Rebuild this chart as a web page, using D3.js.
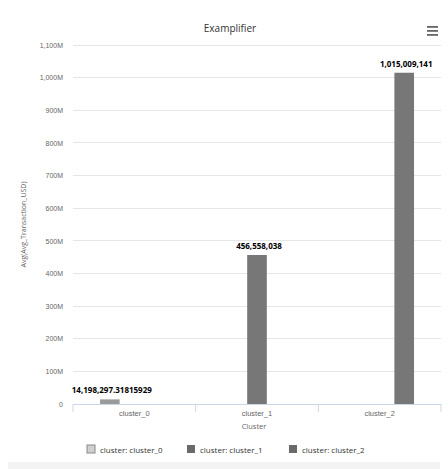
<!DOCTYPE html>
<html>
<head>
<meta charset="utf-8">
<script src="https://cdn.jsdelivr.net/npm/d3@7"></script>
<style>
  html, body { margin: 0; padding: 0; background: #fff; }
  svg { display: block; font-family: "Open Sans", "Noto Sans", sans-serif; }
</style>
</head>
<body>
<svg id="chart" width="448" height="469"></svg>
<script>
// Chart data
const categories = ["cluster_0", "cluster_1", "cluster_2"];
const seriesNames = ["cluster: cluster_0", "cluster: cluster_1", "cluster: cluster_2"];
const seriesValues = [14198297.31815929, 456558038, 1015009141];
const valueLabels = ["14,198,297.31815929", "456,558,038", "1,015,009,141"];
const yTicks = [0, 100e6, 200e6, 300e6, 400e6, 500e6, 600e6, 700e6, 800e6, 900e6, 1000e6, 1100e6];
const seriesColors = ["#9a9a9a", "#777777", "#777777"];

const svg = d3.select("#chart");
const W = 448, H = 469;
const margin = { left: 73, right: 7, top: 45, bottom: 65 };
const plotW = W - margin.left - margin.right;
const plotH = H - margin.top - margin.bottom;

// bottom shadow strip
svg.append("rect").attr("x", 8).attr("y", 462).attr("width", 432).attr("height", 7).attr("fill", "#f3f3f3");

const g = svg.append("g").attr("transform", `translate(${margin.left},${margin.top})`);

const x = d3.scaleBand().domain(categories).range([0, plotW]).paddingInner(0).paddingOuter(0);
const y = d3.scaleLinear().domain([0, 1100e6]).range([plotH, 0]);

// grouped slots inside each category (group padding 0.2, point padding 0.1)
const xs = d3.scaleBand().domain(seriesNames).range([x.bandwidth() * 0.2, x.bandwidth() * 0.8]).paddingInner(0);
const barW = xs.bandwidth() * 0.8;

// gridlines
g.append("g").selectAll("line").data(yTicks).join("line")
  .attr("x1", 0).attr("x2", plotW)
  .attr("y1", d => y(d)).attr("y2", d => y(d))
  .attr("stroke", "#e6e6e6").attr("stroke-width", 1)
  .attr("shape-rendering", "crispEdges");

// y axis labels
const fmtM = d => d === 0 ? "0" : d3.format(",")(d / 1e6) + "M";
const yAxis = d3.axisLeft(y).tickValues(yTicks).tickFormat(fmtM).tickSize(0).tickPadding(10);
const yg = g.append("g").call(yAxis);
yg.select(".domain").remove();
yg.selectAll("text").attr("fill", "#666").style("font-size", "7px");

// x axis
const xAxis = d3.axisBottom(x).tickSize(0).tickPadding(7);
const xg = g.append("g").attr("transform", `translate(0,${plotH})`).call(xAxis);
xg.select(".domain").attr("stroke", "#ccd6eb");
xg.selectAll("text").attr("fill", "#666").style("font-size", "7.5px");
// category boundary ticks
xg.append("g").selectAll("line").data(categories).join("line")
  .attr("x1", d => x(d) + x.bandwidth()).attr("x2", d => x(d) + x.bandwidth())
  .attr("y1", 0).attr("y2", 8).attr("stroke", "#ccd6eb");
xg.append("line").attr("x1", 0).attr("x2", 0).attr("y1", 0).attr("y2", 8).attr("stroke", "#ccd6eb");

// bars: series i sits in category i
const bars = categories.map((c, i) => ({ cat: c, series: seriesNames[i], value: seriesValues[i], label: valueLabels[i], color: seriesColors[i] }));
const barX = d => x(d.cat) + xs(d.series) + (xs.bandwidth() - barW) / 2;

g.append("g").selectAll("rect").data(bars).join("rect")
  .attr("x", barX)
  .attr("y", d => y(d.value))
  .attr("width", barW)
  .attr("height", d => plotH - y(d.value))
  .attr("fill", d => d.color);

// value labels
g.append("g").selectAll("text").data(bars).join("text")
  .attr("x", d => barX(d) + barW / 2 + 2)
  .attr("y", d => y(d.value) - 6)
  .attr("text-anchor", "middle")
  .attr("fill", "#000")
  .style("font-size", "8px")
  .style("font-weight", "bold")
  .text(d => d.label);

// titles
svg.append("text").attr("x", 230).attr("y", 32).attr("text-anchor", "middle")
  .attr("fill", "#333").style("font-size", "10px").text("Examplifier");

svg.append("text").attr("x", (margin.left + W - margin.right) / 2 - 3).attr("y", 429)
  .attr("text-anchor", "middle").attr("fill", "#666").style("font-size", "7.5px").text("Cluster");

svg.append("text")
  .attr("transform", `translate(26,${margin.top + plotH / 2}) rotate(-90)`)
  .attr("text-anchor", "middle").attr("fill", "#666").style("font-size", "7px")
  .text("Avg(Avg_Transaction_USD)");

// menu icon
const menu = svg.append("g").attr("transform", "translate(427,26)");
[0, 4, 8].forEach(dy => menu.append("rect").attr("x", 0).attr("y", dy).attr("width", 11).attr("height", 1.8).attr("fill", "#666"));

// legend
const legendX = [87, 187, 289];
const lg = svg.append("g").selectAll("g").data(seriesNames).join("g")
  .attr("transform", (d, i) => `translate(${legendX[i]},445)`);
lg.append("rect").attr("x", 0).attr("y", 0).attr("width", 8).attr("height", 8)
  .attr("fill", (d, i) => i === 0 ? "#d0d0d0" : "#6a6a6a")
  .attr("stroke", (d, i) => i === 0 ? "#888" : "none").attr("stroke-width", 1);
lg.append("text").attr("x", 13).attr("y", 7.5).attr("fill", "#333")
  .style("font-size", "8px").text(d => d);
</script>
</body>
</html>
